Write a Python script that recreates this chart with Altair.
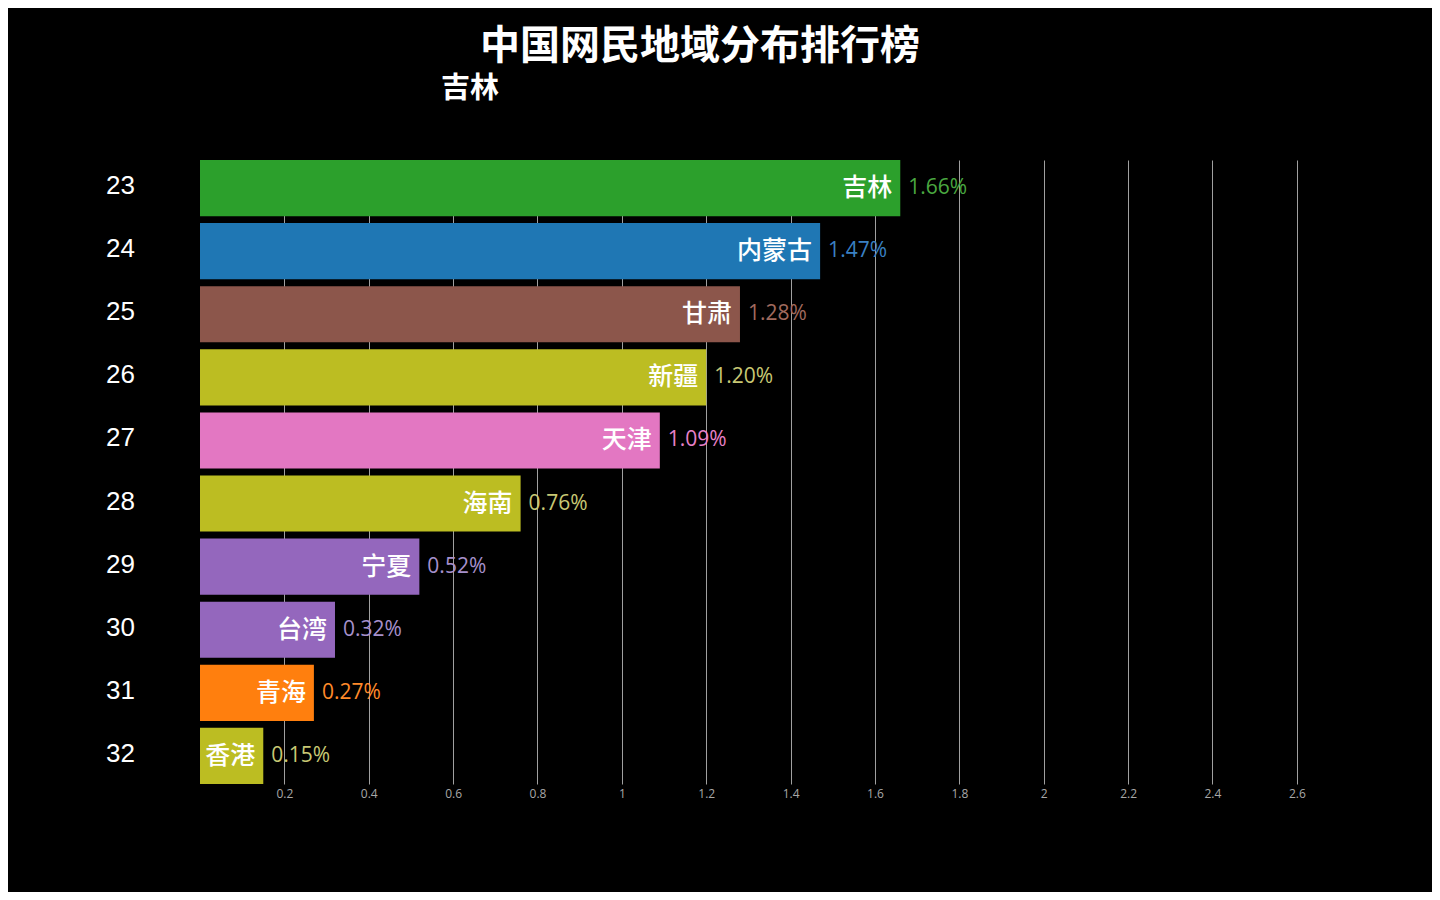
import altair as alt
import pandas as pd

title_text = "中国网民地域分布排行榜"
subtitle_text = "吉林"

ranks = [23, 24, 25, 26, 27, 28, 29, 30, 31, 32]
provinces = ["吉林", "内蒙古", "甘肃", "新疆", "天津", "海南", "宁夏", "台湾", "青海", "香港"]
values = [1.66, 1.47, 1.28, 1.20, 1.09, 0.76, 0.52, 0.32, 0.27, 0.15]
colors = ["#2ca02c", "#1f77b4", "#8c564b", "#bcbd22", "#e377c2",
          "#bcbd22", "#9467bd", "#9467bd", "#ff7f0e", "#bcbd22"]
text_colors = ["#4aa840", "#3a80c4", "#a06a5e", "#c8c874", "#e880c8",
               "#c8c874", "#a690cc", "#a690cc", "#ff8a2a", "#c8c874"]
tick_values = [0.2, 0.4, 0.6, 0.8, 1.0, 1.2, 1.4, 1.6, 1.8, 2.0, 2.2, 2.4, 2.6]

df = pd.DataFrame({
    "rank": ranks,
    "province": provinces,
    "value": values,
    "color": colors,
    "tcolor": text_colors,
    "label": [f"{v:.2f}%" for v in values],
})

W = 1139
H = 624

x_enc = alt.X("value:Q",
              scale=alt.Scale(domain=[0, 2.7], nice=False, zero=True),
              axis=alt.Axis(values=tick_values, format="~g", title=None,
                            domain=False, ticks=False, grid=True,
                            gridColor="#a0a0a0", gridWidth=1,
                            labelColor="#a8a8a8", labelFontSize=12,
                            labelFont="Open Sans", labelPadding=4))
y_enc = alt.Y("rank:O", sort=ranks,
              scale=alt.Scale(paddingInner=0.11, paddingOuter=0),
              axis=alt.Axis(title=None, domain=False, ticks=False, grid=False,
                            labelColor="white", labelFontSize=26,
                            labelFont="Liberation Sans", labelAlign="center",
                            labelBaseline="middle", labelPadding=80,
                            labelOffset=-2))

base = alt.Chart(df)

bars = base.mark_bar().encode(
    x=x_enc,
    y=y_enc,
    color=alt.Color("color:N", scale=None),
)

names = base.mark_text(align="right", baseline="middle", dx=-8,
                       font="Noto Sans CJK SC", fontSize=25, fontWeight=500,
                       color="white").encode(
    x="value:Q", y=alt.Y("rank:O", sort=ranks), text="province:N")

vals = base.mark_text(align="left", baseline="middle", dx=8,
                      font="Open Sans", fontSize=21).encode(
    x="value:Q", y=alt.Y("rank:O", sort=ranks), text="label:N",
    color=alt.Color("tcolor:N", scale=None))

title_df = pd.DataFrame({"t": [title_text]})
sub_df = pd.DataFrame({"t": [subtitle_text]})

title_mark = alt.Chart(title_df).mark_text(
    align="center", baseline="middle", font="Noto Sans CJK SC",
    fontSize=40, fontWeight="bold", color="white").encode(
    text="t:N", x=alt.value(500), y=alt.value(-113))

sub_mark = alt.Chart(sub_df).mark_text(
    align="center", baseline="middle", font="Noto Sans CJK SC",
    fontSize=29, fontWeight="bold", color="white").encode(
    text="t:N", x=alt.value(270), y=alt.value(-71))

chart = alt.layer(bars, names, vals, title_mark, sub_mark).properties(
    width=W, height=H,
    background="black",
    autosize=alt.AutoSizeParams(type="none"),
    padding={"left": 192, "top": 152, "right": 93, "bottom": 108},
).configure_view(stroke=None)

chart.save("out.html", embed_options={"renderer": "svg", "actions": False})
